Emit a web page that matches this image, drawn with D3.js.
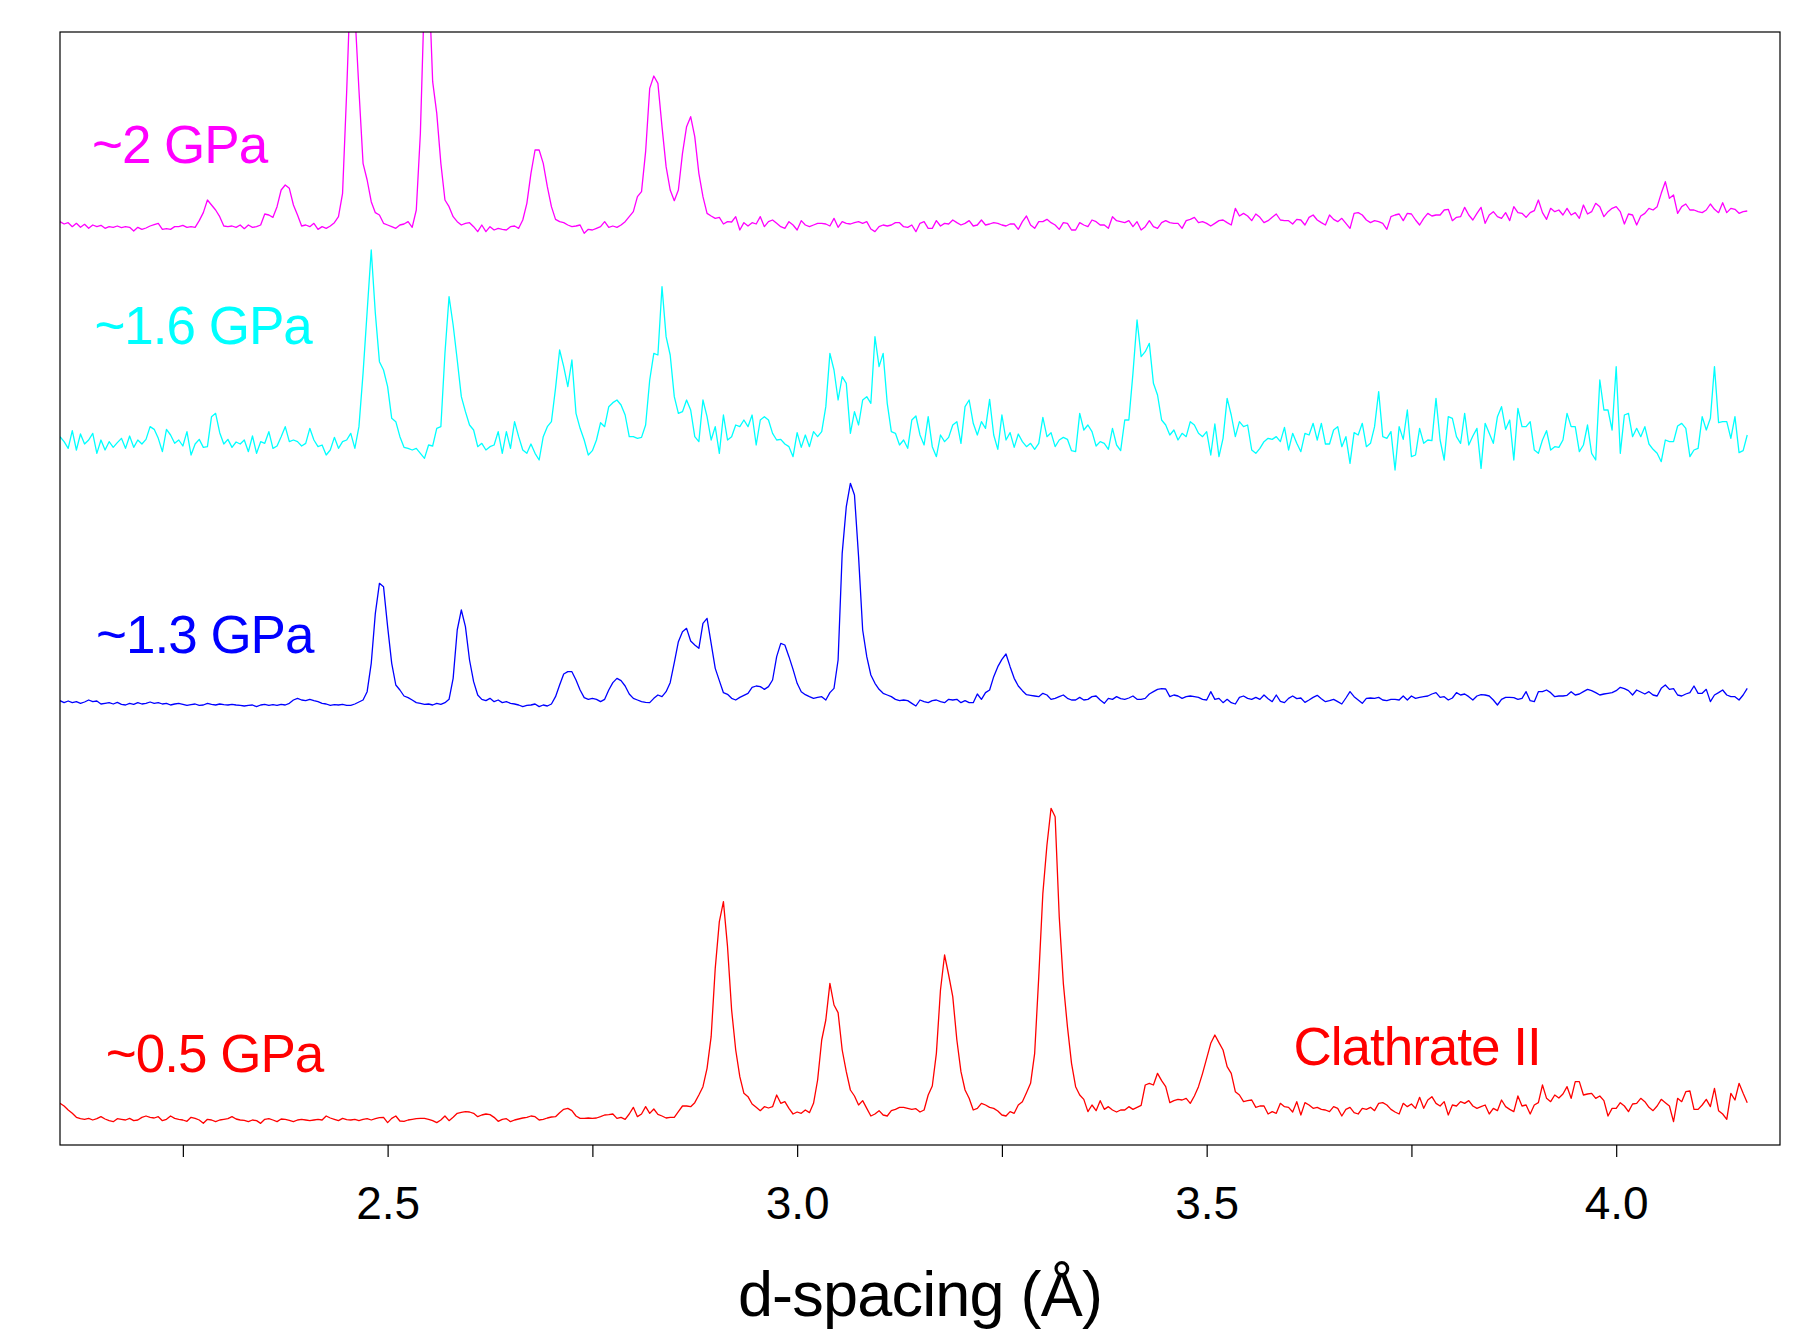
<!DOCTYPE html>
<html>
<head>
<meta charset="utf-8">
<script src="https://cdn.jsdelivr.net/npm/d3@7"></script>
<style>
  body { margin: 0; background: #fff; }
  svg { font-family: "Liberation Sans", Arial, sans-serif; }
</style>
</head>
<body>
<div id="chart"></div>
<script>
// d-spacing grid shared by all patterns (Å)
const dStart = 2.1, dStep = 0.005;

// intensities (arb. units) above each pattern's own baseline, one per grid step
const gpa2 = [
  10,3,7,-5,5,-7,2,-10,0,-5, -1,-10,-5,-7,-3,-8,-5,-7,-18,-7,
  -13,-9,-3,1,5,-13,-11,-13,-5,-5, -1,-7,-5,-7,13,37,75,60,45,25,
  -3,-5,-3,-7,0,-11,0,-7,-5,0, 33,30,23,55,105,120,110,60,30,-3,
  0,-5,5,-13,-5,-10,-3,7,25,95, 400,750,640,405,185,135,70,37,30,5,
  0,-5,-10,0,3,10,-7,45,275,700, 760,430,335,185,75,55,25,10,0,5,
  7,-5,-20,0,-20,-5,-15,-10,-13,-15, -5,-3,-10,15,65,155,225,225,185,115,
  55,17,10,7,0,-5,-3,0,-25,-13, -15,-10,-5,10,-7,-3,-7,0,10,25,
  40,85,100,220,410,447,425,295,175,105, 73,105,215,295,325,265,155,85,35,27,
  20,23,3,10,9,25,-15,7,-3,7, 3,25,-5,10,15,5,-5,-10,10,0,
  -15,13,0,-5,0,5,5,3,-3,20, -7,10,5,3,7,10,5,10,-12,-20,
  -5,0,-3,0,7,7,-5,-7,0,-20, 5,10,-10,-10,13,-3,5,3,15,7,
  0,5,13,-3,0,15,0,3,7,5, 0,-3,3,3,-13,10,27,0,-10,10,
  10,17,7,0,-13,7,5,-15,-15,7, 0,-5,15,10,0,0,-10,25,13,10,
  7,13,-5,10,-15,-5,13,-5,-10,7, 13,7,5,5,-10,13,17,23,7,10,
  5,-3,5,13,15,7,0,50,27,35, 27,13,33,23,7,13,23,33,15,13,
  13,3,17,15,0,23,30,15,7,0, 30,17,10,20,5,-10,35,37,30,15,
  7,13,10,5,-13,25,30,33,13,35, 33,15,0,20,35,27,30,30,45,47,
  13,23,25,53,30,15,35,53,5,30, 40,25,20,37,13,55,37,35,23,37,
  43,75,37,17,50,40,45,30,50,30, 37,20,60,33,40,65,55,25,40,50,
  55,40,3,33,30,0,27,35,50,45, 55,95,130,80,90,35,55,63,45,45,
  40,37,45,63,47,37,67,37,50,47, 35,40,42
];
const gpa16 = [
  25,10,-10,43,-15,33,3,15,35,-25, 15,-15,10,-7,7,20,-10,27,-7,15,
  3,17,55,47,20,-20,47,30,5,15, -3,40,-30,3,17,-7,-5,85,95,37,
  3,17,-7,9,3,15,-20,27,-25,10, 5,40,-10,-3,25,55,10,15,10,-3,
  5,50,15,-5,0,-30,-15,23,-10,10, 15,35,-10,55,215,400,585,395,250,225,
  175,80,70,25,-7,-10,-15,-10,-25,-40, 0,-3,50,55,275,445,360,255,145,100,
  60,45,-5,5,-15,-5,0,40,-25,40, -10,70,25,-15,-25,3,-25,-45,25,55,
  70,170,285,235,175,255,95,50,15,-30, -17,15,67,55,115,127,135,120,90,25,
  25,20,23,60,195,275,270,475,325,270, 145,95,100,135,105,25,10,135,85,15,
  55,-25,90,15,25,60,55,75,55,90, 0,75,85,75,35,15,17,3,-5,-35,
  37,-7,30,-5,40,25,40,115,275,225, 135,205,185,35,100,60,135,145,125,325,
  235,275,125,40,35,0,15,-10,75,87, 30,0,85,-5,-35,30,10,23,60,70,
  5,115,135,65,30,70,50,137,30,-13, 90,15,37,-7,33,10,-5,5,-13,5,
  83,25,37,-5,15,23,17,-17,-20,95, 45,60,40,-3,10,5,-13,50,0,-17,
  75,75,215,375,265,280,305,185,150,75, 60,30,45,15,35,25,70,60,35,25,
  40,-30,63,-35,20,140,90,25,70,55, 60,-15,-25,-10,10,20,17,25,10,53,
  -15,35,5,-20,35,30,65,15,65,3, 3,45,55,-5,25,-55,37,30,65,-5,
  5,55,160,25,20,40,-75,55,17,105, -35,-30,50,5,15,13,140,15,-45,85,
  80,25,5,95,0,27,50,-70,65,35, 5,85,115,47,75,-45,110,55,55,70,
  -15,-25,15,43,-15,-5,-7,15,95,55, 55,-20,0,60,-25,-45,195,105,105,45,
  235,-25,90,95,25,50,25,55,3,-13, -25,-50,15,10,10,57,65,50,-35,-15,
  -10,85,45,80,235,67,70,70,20,85, -23,-17,30
];
const gpa13 = [
  4,-2,3,-2,1,-4,0,6,1,3, -6,-4,-2,-6,-1,-7,-9,-4,-7,-2,
  -6,-4,0,-4,-2,-6,-4,-9,-6,-4, -7,-10,-8,-6,-10,-9,-4,-7,-9,-6,
  -8,-9,-7,-9,-10,-12,-10,-9,-14,-9, -7,-10,-8,-10,-7,-9,-4,6,11,6,
  4,8,4,1,-4,-6,-10,-8,-9,-7, -10,-10,-6,0,6,31,116,266,356,346,
  226,116,51,36,18,13,6,-2,-4,-7, -6,-9,-4,-7,-2,8,71,216,276,226,
  126,61,21,8,4,11,1,6,-2,1, -4,-6,-9,-14,-10,-9,-6,-14,-9,-12,
  -6,16,51,84,91,91,66,36,13,8, 11,8,1,8,36,58,71,64,48,24,
  11,6,1,-1,-2,11,21,16,31,58, 118,181,211,221,183,171,161,236,251,176,
  101,64,28,23,11,6,14,20,26,44, 48,46,38,46,66,136,176,171,136,98,
  56,31,22,16,11,14,16,6,28,41, 126,446,586,656,621,436,216,136,81,56,
  38,26,21,16,8,4,6,4,-4,-12, 6,1,-2,4,6,1,-2,8,6,8,
  -2,4,-2,-2,24,8,28,36,76,106, 128,144,106,71,48,34,22,20,18,16,
  26,21,8,11,16,21,11,6,6,14, 6,8,16,18,6,-4,11,8,16,10,
  8,12,18,8,8,11,24,31,38,40, 39,16,21,18,11,16,18,16,14,8,
  6,31,8,11,-2,8,-2,-6,14,18, 11,8,14,8,21,10,1,21,2,-2,
  11,18,10,12,-1,6,14,20,10,1, 4,8,1,-6,12,31,16,6,-4,11,
  12,11,14,6,4,8,8,6,18,6, 18,11,14,16,18,24,28,14,16,6,
  12,28,21,24,16,6,18,22,21,18, 6,-9,8,14,14,13,8,11,31,4,
  1,31,31,36,28,16,18,18,20,31, 21,24,31,38,34,28,21,24,26,28,
  34,44,40,34,21,36,30,24,31,21, 18,41,51,38,40,21,18,24,28,48,
  26,26,38,1,21,28,36,21,16,16, 6,21,41
];
const gpa05 = [
  45,37,25,15,3,-1,-3,0,-5,-1, 5,-2,-7,-10,-1,-3,-5,0,-7,-5,
  3,7,3,1,5,-7,-3,7,0,-3, -5,-9,3,0,-5,-15,-3,-5,-10,-5,
  -3,-1,5,-2,-5,-6,-10,-5,-7,-15, -3,-1,-5,-10,-2,-3,-6,-10,-5,-3,
  -5,-7,-5,-3,-5,7,1,-3,-7,0, -4,-5,-3,-7,-3,-1,-5,-1,2,3,
  -13,0,7,-8,-9,-5,-3,-1,0,0, -3,-7,-13,-5,7,-7,3,15,18,20,
  19,15,5,10,13,11,3,-9,-3,-1, -10,-5,-2,1,3,7,5,-5,-3,1,
  4,5,17,27,30,23,7,0,0,1, 0,1,5,10,11,13,0,3,-3,13,
  33,5,13,35,15,28,12,7,1,3, 3,20,37,37,35,47,70,95,150,245,
  450,590,650,515,325,205,125,75,65,43, 33,23,35,31,35,70,45,50,30,13,
  19,15,25,17,45,115,235,295,405,340, 317,205,140,85,67,40,53,30,7,13,
  23,10,7,23,27,33,33,30,27,29, 19,25,70,97,195,385,490,430,365,235,
  140,85,60,25,30,45,40,33,30,22, 10,7,20,15,40,50,77,105,195,425,
  675,820,930,905,605,405,275,165,95,70, 57,20,40,23,53,27,35,25,19,25,
  25,35,27,33,39,100,105,100,135,113, 95,47,53,57,55,60,45,67,95,135,
  180,225,250,227,205,155,135,80,70,50, 53,55,33,37,37,13,20,15,45,35,
  33,19,50,10,47,40,30,33,27,25, 20,35,30,7,27,33,17,13,30,27,
  33,23,45,47,40,27,19,13,45,35, 43,30,63,30,55,65,45,37,50,10,
  40,37,50,45,53,37,30,35,40,13, 30,23,55,35,27,20,67,37,40,13,
  40,47,100,60,50,70,61,73,95,60, 110,110,70,73,75,60,67,53,7,30,
  30,47,37,20,43,45,60,50,33,23, 37,57,47,37,-10,60,50,80,82,27,
  27,40,57,35,90,23,13,-3,75,55, 105,75,47
];

// vertical stacking offset of each pattern (same arb. units)
const patterns = [
  { name: "~2 GPa",   values: gpa2,  offset: 2760, color: "#ff00ff", labelAt: [2.139, 2946] },
  { name: "~1.6 GPa", values: gpa16, offset: 2100, color: "#00ffff", labelAt: [2.142, 2403] },
  { name: "~1.3 GPa", values: gpa13, offset: 1329, color: "#0000ff", labelAt: [2.144, 1477] },
  { name: "~0.5 GPa", values: gpa05, offset: 80,   color: "#ff0000", labelAt: [2.156, 220] }
];
const phaseNote = { text: "Clathrate II", at: [3.606, 240], color: "#ff0000" };

const xTicks = [2.25, 2.5, 2.75, 3.0, 3.25, 3.5, 3.75, 4.0];
const xLabelled = [2.5, 3.0, 3.5, 4.0];

const width = 1802, height = 1331;
const margin = { top: 32, right: 22, bottom: 186, left: 60 };

const x = d3.scaleLinear().domain([2.1, 4.2]).range([margin.left, width - margin.right]);
const y = d3.scaleLinear().domain([0, 3339]).range([height - margin.bottom, margin.top]);

const svg = d3.select("#chart").append("svg")
  .attr("width", width)
  .attr("height", height);

svg.append("clipPath").attr("id", "plot-clip")
  .append("rect")
  .attr("x", x(2.1)).attr("y", y(3339))
  .attr("width", x(4.2) - x(2.1)).attr("height", y(0) - y(3339));

const line = d3.line()
  .x((v, i) => x(dStart + i * dStep));

const traces = svg.append("g").attr("clip-path", "url(#plot-clip)");
patterns.forEach(p => {
  traces.append("path")
    .attr("fill", "none")
    .attr("stroke", p.color)
    .attr("stroke-width", 1.3)
    .attr("stroke-linejoin", "round")
    .attr("d", line.y(v => y(p.offset + v))(p.values));
});

// pressure labels
svg.selectAll(".plabel")
  .data(patterns)
  .join("text")
  .attr("class", "plabel")
  .attr("x", d => x(d.labelAt[0]))
  .attr("y", d => y(d.labelAt[1]))
  .attr("fill", d => d.color)
  .style("font-size", "53px")
  .style("letter-spacing", "-1px")
  .text(d => d.name);

svg.append("text")
  .attr("x", x(phaseNote.at[0]))
  .attr("y", y(phaseNote.at[1]))
  .attr("fill", phaseNote.color)
  .style("font-size", "53px")
  .style("letter-spacing", "-1px")
  .text(phaseNote.text);

// frame
svg.append("rect")
  .attr("x", x(2.1)).attr("y", y(3339))
  .attr("width", x(4.2) - x(2.1)).attr("height", y(0) - y(3339))
  .attr("fill", "none")
  .attr("stroke", "#000")
  .attr("stroke-width", 1.2);

// bottom axis
const xAxis = d3.axisBottom(x)
  .tickValues(xTicks)
  .tickSize(12)
  .tickPadding(29)
  .tickFormat(d => xLabelled.includes(d) ? d.toFixed(1) : "");

const gx = svg.append("g")
  .attr("transform", `translate(0,${y(0)})`)
  .call(xAxis);
gx.select(".domain").remove();
gx.selectAll(".tick line").attr("stroke", "#000").attr("stroke-width", 1.2);
gx.selectAll(".tick text")
  .attr("fill", "#000")
  .style("font-family", "'Liberation Sans', Arial, sans-serif")
  .style("font-size", "46px");

svg.append("text")
  .attr("x", (x(2.1) + x(4.2)) / 2)
  .attr("y", 1316)
  .attr("text-anchor", "middle")
  .attr("fill", "#000")
  .style("font-size", "63px")
  .style("letter-spacing", "-0.8px")
  .text("d-spacing (Å)");
</script>
</body>
</html>
